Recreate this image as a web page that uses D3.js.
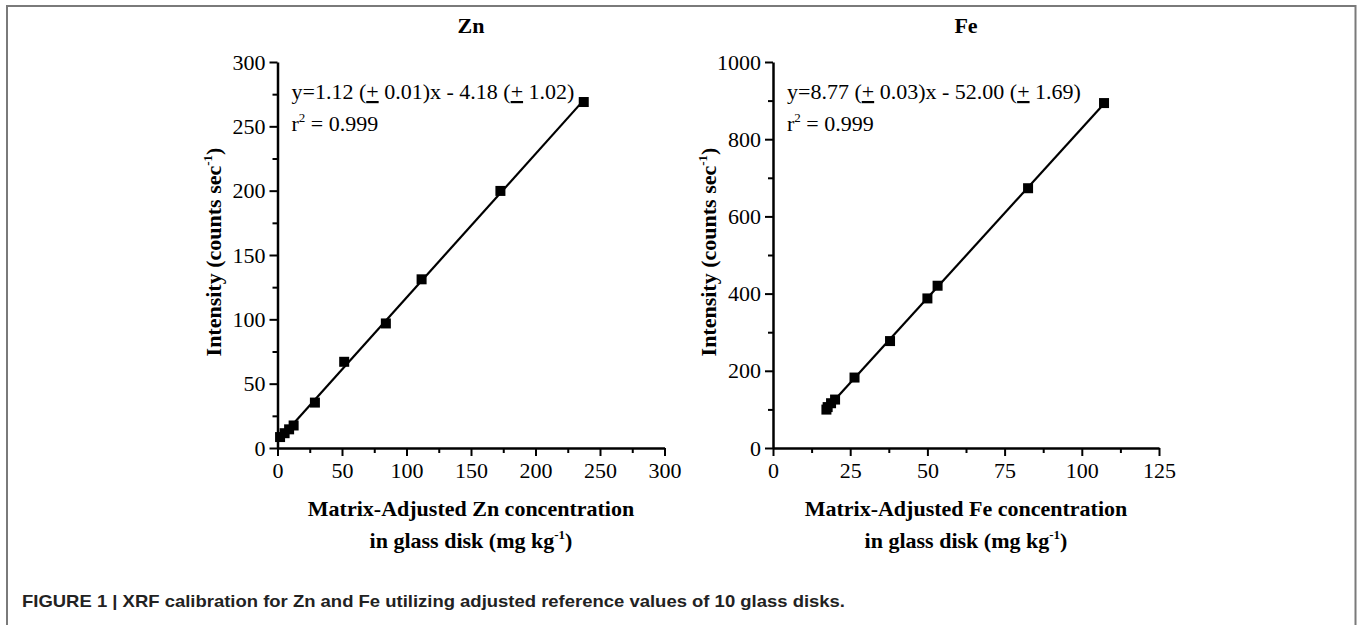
<!DOCTYPE html>
<html>
<head>
<meta charset="utf-8">
<script src="https://cdn.jsdelivr.net/npm/d3@7"></script>
<style>
  body { margin: 0; background: #fff; }
  svg { display: block; }
  .serif { font-family: "Liberation Serif", "Times New Roman", serif; }
</style>
</head>
<body>
<svg id="chart" width="1357" height="625"></svg>
<script>
// Zn calibration points
const znConc = [2, 5.5, 9, 12.5, 29, 51.7, 84, 111.7, 172.8, 237.4];
const znInt = [8.5, 11.5, 14.5, 17.5, 35.3, 67, 96.8, 131.1, 199.8, 268.9];
// Fe calibration points
const feConc = [17.3, 17.7, 18.8, 20.1, 26.4, 37.9, 50.0, 53.3, 82.6, 107.2];
const feInt = [99.5, 106, 116, 125.5, 182.5, 277, 387.5, 420.4, 673, 893.6];

const znXTicks = [0, 50, 100, 150, 200, 250, 300];
const znYTicks = [0, 50, 100, 150, 200, 250, 300];
const feXTicks = [0, 25, 50, 75, 100, 125];
const feYTicks = [0, 200, 400, 600, 800, 1000];

const panels = [
  {
    name: 'Zn', x: znConc, y: znInt, xTicks: znXTicks, yTicks: znYTicks,
    xMax: 300, yMax: 300, left: 277.5, right: 664.5,
    eq: ['y=1.12 (', '+', ' 0.01)x - 4.18 (', '+', ' 1.02)']
  },
  {
    name: 'Fe', x: feConc, y: feInt, xTicks: feXTicks, yTicks: feYTicks,
    xMax: 125, yMax: 1000, left: 773, right: 1159,
    eq: ['y=8.77 (', '+', ' 0.03)x - 52.00 (', '+', ' 1.69)']
  }
];

const plotTop = 62, plotBottom = 448;
const fs = 22;
const svg = d3.select('#chart');

// outer frame of the figure
svg.append('path')
  .attr('d', 'M7,630V6H1355.5V630')
  .attr('fill', 'none')
  .attr('stroke', '#7a7a7a')
  .attr('stroke-width', 2);

const mid = arr => arr.slice(0, -1).map((v, i) => (v + arr[i + 1]) / 2);

panels.forEach(p => {
  const x = d3.scaleLinear().domain([0, p.xMax]).range([p.left, p.right]);
  const y = d3.scaleLinear().domain([0, p.yMax]).range([plotBottom, plotTop]);
  const g = svg.append('g').attr('class', 'serif');

  // minor ticks
  g.append('g')
    .attr('transform', `translate(0,${plotBottom})`)
    .call(d3.axisBottom(x).tickValues(mid(p.xTicks)).tickSize(5).tickFormat(''))
    .call(s => s.select('.domain').remove())
    .call(s => s.selectAll('line').attr('stroke-width', 2));
  g.append('g')
    .attr('transform', `translate(${p.left},0)`)
    .call(d3.axisLeft(y).tickValues(mid(p.yTicks)).tickSize(5).tickFormat(''))
    .call(s => s.select('.domain').remove())
    .call(s => s.selectAll('line').attr('stroke-width', 2));

  // major axes
  const xa = g.append('g')
    .attr('transform', `translate(0,${plotBottom})`)
    .call(d3.axisBottom(x).tickValues(p.xTicks).tickFormat(d3.format('d'))
      .tickSize(8).tickSizeOuter(0).tickPadding(6));
  const ya = g.append('g')
    .attr('transform', `translate(${p.left},0)`)
    .call(d3.axisLeft(y).tickValues(p.yTicks).tickFormat(d3.format('d'))
      .tickSize(8).tickSizeOuter(0).tickPadding(4));
  [xa, ya].forEach(a => {
    a.attr('font-family', null).attr('font-size', null);
    a.select('.domain').attr('stroke-width', 2.5);
    a.selectAll('line').attr('stroke-width', 2);
    a.selectAll('text')
      .attr('font-size', fs)
      .attr('fill', '#000');
  });

  // least-squares line through the points
  const mx = d3.mean(p.x), my = d3.mean(p.y);
  const slope = d3.sum(p.x, (v, i) => (v - mx) * (p.y[i] - my)) /
    d3.sum(p.x, v => (v - mx) * (v - mx));
  const icpt = my - slope * mx;
  const [x0, x1] = d3.extent(p.x);
  g.append('line')
    .attr('x1', x(x0)).attr('y1', y(slope * x0 + icpt))
    .attr('x2', x(x1)).attr('y2', y(slope * x1 + icpt))
    .attr('stroke', '#000')
    .attr('stroke-width', 2.2);

  // square markers
  g.selectAll('rect.pt')
    .data(p.x.map((v, i) => [v, p.y[i]]))
    .join('rect')
    .attr('class', 'pt')
    .attr('x', d => x(d[0]) - 5)
    .attr('y', d => y(d[1]) - 5)
    .attr('width', 10)
    .attr('height', 10)
    .attr('fill', '#000');

  const cx = (p.left + p.right) / 2;

  // panel title
  g.append('text')
    .attr('x', cx).attr('y', 33)
    .attr('text-anchor', 'middle')
    .attr('font-size', fs)
    .attr('font-weight', 'bold')
    .text(p.name);

  // fit equation
  const eq = g.append('text')
    .attr('x', p.left + 14).attr('y', 99)
    .attr('font-size', fs);
  p.eq.forEach(s => {
    const t = eq.append('tspan').text(s);
    if (s === '+') t.attr('text-decoration', 'underline');
  });
  const r2 = g.append('text')
    .attr('x', p.left + 14).attr('y', 131)
    .attr('font-size', fs);
  r2.append('tspan').text('r');
  r2.append('tspan').attr('dy', -9).attr('font-size', 13).text('2');
  r2.append('tspan').attr('dy', 9).text(' = 0.999');

  // y axis title
  const yt = g.append('text')
    .attr('transform', `translate(${p.left - 57},252) rotate(-90)`)
    .attr('text-anchor', 'middle')
    .attr('font-size', fs)
    .attr('font-weight', 'bold');
  yt.append('tspan').text('Intensity (counts sec');
  yt.append('tspan').attr('dy', -9).attr('font-size', 13).text('-1');
  yt.append('tspan').attr('dy', 9).text(')');

  // x axis title
  g.append('text')
    .attr('x', cx).attr('y', 516)
    .attr('text-anchor', 'middle')
    .attr('font-size', fs)
    .attr('font-weight', 'bold')
    .text(`Matrix-Adjusted ${p.name} concentration`);
  const xt = g.append('text')
    .attr('x', cx).attr('y', 548)
    .attr('text-anchor', 'middle')
    .attr('font-size', fs)
    .attr('font-weight', 'bold');
  xt.append('tspan').text('in glass disk (mg kg');
  xt.append('tspan').attr('dy', -9).attr('font-size', 13).text('-1');
  xt.append('tspan').attr('dy', 9).text(')');
});

// caption
svg.append('text')
  .attr('x', 22).attr('y', 607)
  .attr('font-family', '"Liberation Sans", Arial, sans-serif')
  .attr('font-weight', 'bold')
  .attr('font-size', 17)
  .attr('textLength', 823)
  .attr('lengthAdjust', 'spacingAndGlyphs')
  .attr('fill', '#222')
  .text('FIGURE 1 | XRF calibration for Zn and Fe utilizing adjusted reference values of 10 glass disks.');
</script>
</body>
</html>
